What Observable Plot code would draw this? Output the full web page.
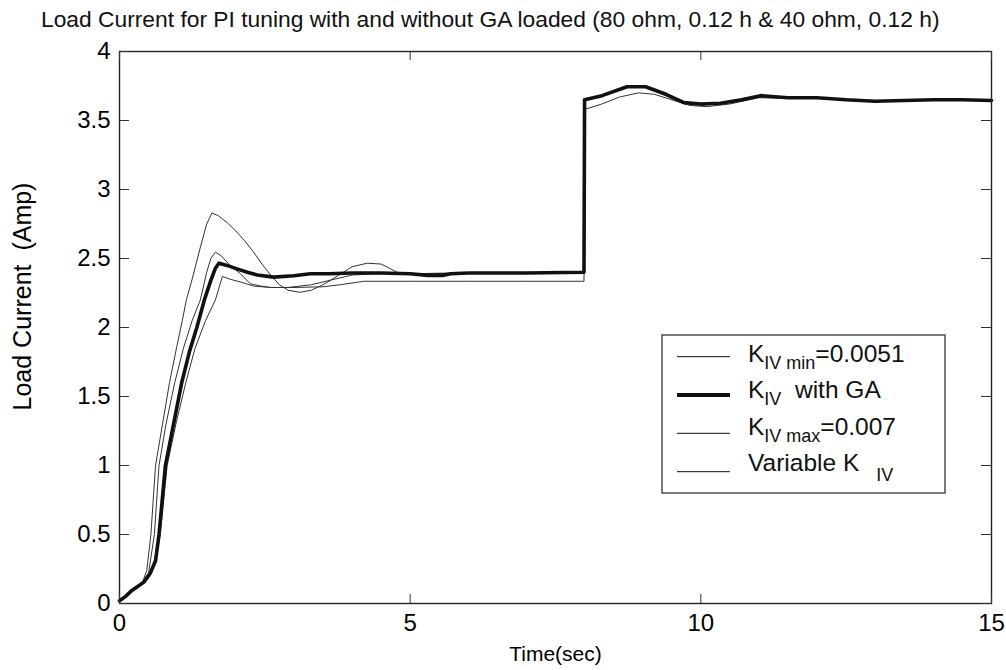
<!DOCTYPE html>
<html><head><meta charset="utf-8">
<script src="https://cdn.jsdelivr.net/npm/d3@7"></script>
<script src="https://cdn.jsdelivr.net/npm/@observablehq/plot@0.6"></script>
<style>body{margin:0;background:#fff} svg{display:block}</style>
</head><body><div id="chart"></div>
<script>
const titleText = "Load Current for PI tuning with and without GA loaded (80 ohm, 0.12 h & 40 ohm, 0.12 h)";
const xLabel = "Time(sec)";
const yLabel = "Load Current  (Amp)";
const xTicks = [0, 5, 10, 15];
const yTicks = [0, 0.5, 1, 1.5, 2, 2.5, 3, 3.5, 4];

// K_IV with GA (thick)
const tGA = [0,0.1,0.2,0.3,0.42,0.53,0.62,0.68,0.79,0.93,1.07,1.2,1.33,1.46,1.57,1.65,1.71,1.85,2.02,2.2,2.37,2.65,3.0,3.28,3.6,4.0,4.5,5.0,5.3,5.57,5.7,6.0,7.0,7.99,8.0,8.3,8.73,9.05,9.4,9.71,10.0,10.34,10.7,11.03,11.5,12.0,12.5,13.0,13.5,14.0,14.5,15];
const iGA = [0.02,0.05,0.09,0.12,0.155,0.22,0.31,0.5,1.0,1.3,1.6,1.82,2.0,2.2,2.34,2.43,2.466,2.45,2.425,2.40,2.38,2.365,2.375,2.39,2.39,2.395,2.395,2.39,2.378,2.378,2.39,2.395,2.395,2.40,3.65,3.68,3.745,3.745,3.69,3.63,3.62,3.625,3.65,3.68,3.665,3.665,3.65,3.64,3.645,3.65,3.65,3.645];

// K_IV max = 0.007
const tMax = [0,0.2,0.4,0.47,0.54,0.62,0.74,0.86,0.98,1.08,1.15,1.25,1.39,1.5,1.59,1.7,1.85,2.0,2.15,2.3,2.45,2.6,2.75,2.9,3.1,3.3,3.5,3.7,4.0,4.26,4.5,4.78,5.0,6.0,7.99,8.0,8.3,8.73,9.05,9.4,9.71,10.0,10.34,10.7,11.03,11.5,12.0,13.0,14.0,15];
const iMax = [0.02,0.09,0.16,0.24,0.5,1.0,1.3,1.6,1.85,2.05,2.2,2.35,2.58,2.75,2.83,2.81,2.76,2.70,2.63,2.55,2.46,2.38,2.31,2.27,2.255,2.27,2.31,2.36,2.44,2.466,2.46,2.40,2.39,2.395,2.40,3.65,3.68,3.74,3.74,3.68,3.62,3.61,3.62,3.65,3.675,3.665,3.66,3.64,3.65,3.645];

// Variable K_IV
const tVar = [0,0.2,0.4,0.5,0.6,0.68,0.8,0.95,1.1,1.25,1.39,1.5,1.57,1.65,1.75,1.9,2.08,2.25,2.43,2.6,2.9,3.3,3.7,4.0,4.4,5.0,6.0,7.99,8.0,8.3,8.73,9.05,9.4,9.71,10.0,10.34,10.7,11.03,11.5,12.0,13.0,14.0,15];
const iVar = [0.02,0.09,0.16,0.22,0.5,1.0,1.3,1.6,1.85,2.05,2.2,2.4,2.5,2.546,2.52,2.45,2.39,2.317,2.30,2.29,2.29,2.31,2.35,2.38,2.39,2.39,2.395,2.40,3.65,3.675,3.74,3.745,3.685,3.625,3.615,3.62,3.65,3.675,3.665,3.66,3.64,3.65,3.645];

// K_IV min = 0.0051
const tMin = [0,0.2,0.42,0.55,0.63,0.7,0.82,0.97,1.14,1.3,1.48,1.65,1.72,1.77,1.9,2.08,2.31,2.6,3.0,3.5,3.8,4.2,5.0,6.0,7.0,7.99,8.0,8.3,8.6,8.93,9.2,9.5,9.8,10.1,10.5,11.0,11.5,12.0,12.5,13.0,13.5,14.0,15];
const iMin = [0.02,0.09,0.155,0.22,0.32,0.5,1.0,1.3,1.6,1.85,2.05,2.2,2.3,2.37,2.35,2.33,2.30,2.29,2.29,2.295,2.31,2.335,2.335,2.335,2.335,2.335,3.58,3.62,3.67,3.70,3.69,3.65,3.61,3.60,3.62,3.665,3.66,3.665,3.65,3.64,3.645,3.65,3.645];

const rows = (name, ts, is) => ts.map((t, k) => ({series: name, t, i: is[k]}));
const thin = [
  ...rows("min", tMin, iMin),
  ...rows("max", tMax, iMax),
  ...rows("var", tVar, iVar)
];
const thick = rows("ga", tGA, iGA);

const W = 1006, H = 670, mL = 119, mR = 15, mT = 51, mB = 67;
const pW = W - mL - mR, pH = H - mT - mB;
const font = "'Liberation Sans', Arial, Helvetica, sans-serif";

const plot = Plot.plot({
  width: W, height: H,
  marginLeft: mL, marginRight: mR, marginTop: mT, marginBottom: mB,
  style: {fontFamily: font, background: "#fff", color: "#000"},
  x: {domain: [0, 15]},
  y: {domain: [0, 4]},
  marks: [
    Plot.line(thin, {x: "t", y: "i", z: "series", stroke: "#333", strokeWidth: 1}),
    Plot.line(thick, {x: "t", y: "i", stroke: "#111", strokeWidth: 3.6, strokeLinejoin: "round"}),
    Plot.frame({stroke: "#222", strokeWidth: 1.4}),
    Plot.ruleX(xTicks, {insetTop: pH - 9, stroke: "#333"}),
    Plot.ruleX(xTicks, {insetBottom: pH - 9, stroke: "#333"}),
    Plot.ruleY(yTicks, {insetRight: pW - 10, stroke: "#333"}),
    Plot.ruleY(yTicks, {insetLeft: pW - 10, stroke: "#333"}),
    Plot.axisX(xTicks, {tickSize: 0, tickPadding: 10, fontSize: 24, label: null, tickFormat: d3.format("")}),
    Plot.axisY(yTicks, {tickSize: 0, tickPadding: 9, fontSize: 24, label: null, tickFormat: d3.format("")}),
    Plot.text([xLabel], {frameAnchor: "bottom", dy: 57, fontSize: 21}),
    Plot.text([yLabel], {frameAnchor: "left", textAnchor: "middle", dx: -97, dy: -31, rotate: -90, fontSize: 25})
  ]
});
document.getElementById("chart").appendChild(plot);

const svg = d3.select(plot);
// title
svg.append("text").attr("x", 41).attr("y", 27).attr("text-anchor", "start")
  .attr("font-family", font).attr("font-size", 22.8).attr("fill", "#111").text(titleText);

// legend
const lg = svg.append("g").attr("font-family", font).attr("fill", "#111").attr("text-anchor", "start");
lg.append("rect").attr("x", 662).attr("y", 335).attr("width", 283).attr("height", 158)
  .attr("fill", "#fff").attr("stroke", "#333").attr("stroke-width", 1.3);
const legendRows = [
  {w: 1, ly: 356.7, yb: 361.5, main: "K", sub: "IV min", rest: "=0.0051"},
  {w: 4, ly: 395, yb: 398.3, main: "K", sub: "IV", rest: "  with GA"},
  {w: 1, ly: 433.3, yb: 435, main: "K", sub: "IV max", rest: "=0.007"},
  {w: 1, ly: 471.7, yb: 470.5, main: "Variable K", sub: "IV", rest: "", subdx: 17, subdy: 10}
];
legendRows.forEach(r => {
  lg.append("line").attr("x1", 677).attr("x2", 730).attr("y1", r.ly).attr("y2", r.ly)
    .attr("stroke", "#111").attr("stroke-width", r.w);
  const tx = lg.append("text").attr("x", 748).attr("y", r.yb).attr("font-size", 24.5).style("white-space", "pre");
  tx.append("tspan").text(r.main);
  tx.append("tspan").attr("font-size", 18).attr("dx", r.subdx || 0).attr("dy", r.subdy || 7).text(r.sub);
  if (r.rest) tx.append("tspan").attr("font-size", 24.5).attr("dy", -(r.subdy || 7)).text(r.rest);
});
</script></body></html>
